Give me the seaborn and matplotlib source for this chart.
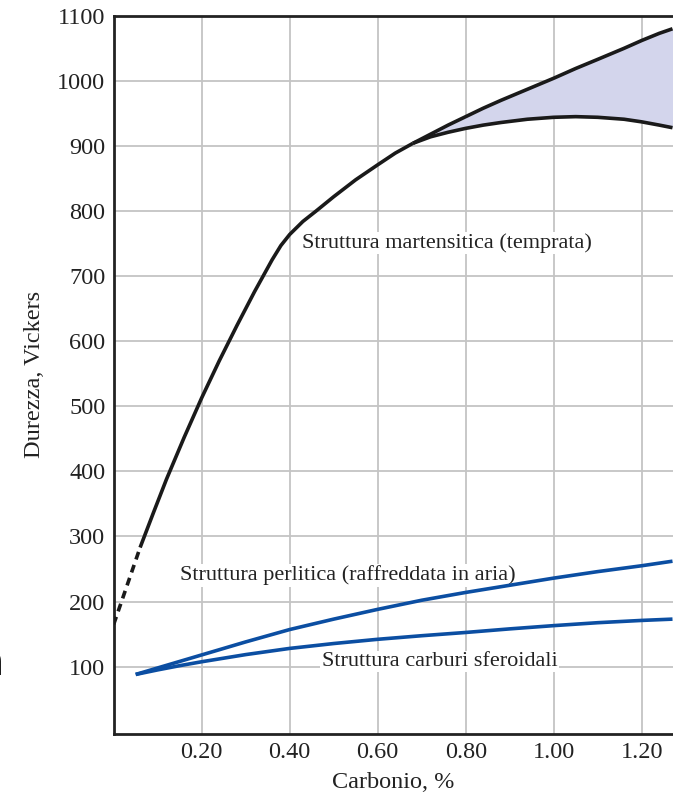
import matplotlib
matplotlib.use("Agg")
import matplotlib.pyplot as plt
import seaborn as sns
import numpy as np
import pandas as pd

# Hardness vs carbon content
# Quenched martensite: dashed extrapolation near 0 % C, then the solid rise
mart_dash_x = [0.0, 0.06]
mart_dash_y = [165, 283]
mart_x = [0.06, 0.09, 0.12, 0.16, 0.20, 0.24, 0.28, 0.32, 0.36, 0.38, 0.40, 0.43,
          0.46, 0.50, 0.55, 0.60, 0.64, 0.68]
mart_y = [283, 336, 388, 452, 513, 570, 624, 676, 725, 747, 764, 784,
          800, 822, 848, 871, 889, 904]

# Above ~0.68 % C the band splits into an upper and a lower bound
band_x = [0.68, 0.72, 0.76, 0.80, 0.84, 0.88, 0.94, 1.00, 1.05, 1.10, 1.16, 1.20, 1.24, 1.27]
band_hi = [904, 918, 932, 945, 958, 970, 987, 1004, 1019, 1033, 1050, 1062, 1073, 1080]
band_lo = [904, 914, 921, 927, 932, 936, 941, 944, 945, 944, 941, 937, 932, 928]

# Pearlitic (air cooled) and spheroidized carbide structures
perl_x = [0.05, 0.10, 0.15, 0.20, 0.30, 0.40, 0.50, 0.60, 0.70, 0.80, 0.90, 1.00, 1.10, 1.20, 1.27]
perl_y = [88, 98, 108, 118, 138, 157, 173, 188, 202, 214, 225, 236, 246, 255, 262]
sfer_x = [0.05, 0.10, 0.15, 0.20, 0.25, 0.30, 0.40, 0.50, 0.60, 0.70, 0.80, 0.90, 1.00, 1.10, 1.20, 1.27]
sfer_y = [88, 95, 101.5, 107.5, 113, 118.5, 128, 135.5, 142, 147.5, 152.5, 158, 163, 167.5, 171, 173]

x_ticks = [0.20, 0.40, 0.60, 0.80, 1.00, 1.20]
x_ticklabels = ["0.20", "0.40", "0.60", "0.80", "1.00", "1.20"]
y_ticks = [100, 200, 300, 400, 500, 600, 700, 800, 900, 1000, 1100]

sns.set_theme(style="white")
plt.rcParams["font.family"] = ["Liberation Serif", "DejaVu Serif"]

W, H = 673, 794
fig = plt.figure(figsize=(W / 100, H / 100), dpi=100)
left, right, top, bottom = 113.7, 673 + 1, 15.5, 734.0
ax = fig.add_axes([left / W, 1 - bottom / H, (right - left) / W, (bottom - top) / H])

black = "#1a1a1a"
blue = "#0b4ea2"

ax.fill_between(band_x, band_lo, band_hi, color="#d3d5ec", lw=0, zorder=1)

def line(x, y, color, **kw):
    sns.lineplot(x=x, y=y, ax=ax, color=color, sort=False, estimator=None,
                 lw=2.6, solid_capstyle="butt", solid_joinstyle="round",
                 zorder=3, **kw)

line(mart_dash_x, mart_dash_y, black, linestyle=(0, (2.2, 1.6)))
line(mart_x, mart_y, black)
line(band_x, band_hi, black)
line(band_x, band_lo, black)
line(perl_x, perl_y, blue)
line(sfer_x, sfer_y, blue)

ax.set_xlim(0, (right - left) / 440.0)
ax.set_ylim(-3.5, 1100 + 0.4)
ax.set_xticks(x_ticks)
ax.set_xticklabels(x_ticklabels)
ax.set_yticks(y_ticks)
ax.grid(True, color="#c4c4c4", lw=1.3, zorder=0)
ax.set_axisbelow(True)

for s in ["left", "bottom", "top"]:
    ax.spines[s].set_color("#222222")
    ax.spines[s].set_linewidth(2.0)
ax.spines["right"].set_visible(False)

ax.tick_params(axis="both", length=0, labelsize=17.5, colors="#222222")
ax.tick_params(axis="x", pad=6)
ax.tick_params(axis="y", pad=6)
ax.set_xlabel("Carbonio, %", fontsize=17.5, color="#222222")
ax.set_ylabel("Durezza, Vickers", fontsize=17.5, color="#222222")
ax.xaxis.set_label_coords(0.5 - 0 * 1, -(783 - bottom) / (bottom - top))
ax.xaxis.label.set_va("center")
ax.xaxis.label.set_x((393 - left) / (right - left))
ax.yaxis.set_label_coords(-(left - 35) / (right - left), (735 - 372) / (bottom - top) - 0.005)
ax.yaxis.label.set_va("center")

txt = dict(fontsize=16, color="#222222", va="center", ha="left", zorder=2)
box = dict(facecolor="white", edgecolor="none", pad=1.0)
ax.text(0.428, 751, "Struttura martensitica (temprata)", bbox=box, **txt)
ax.text(0.151, 240, "Struttura perlitica (raffreddata in aria)", bbox=box, **txt)
ax.text(0.473, 108, "Struttura carburi sferoidali", bbox=box, **txt)

# stray glyph at the left border of the page
fig.text(0.006, 1 - 675 / H, "n", ha="right", va="baseline", fontsize=30,
         family="DejaVu Sans", color="black")

fig.savefig("out.png", dpi=100)
